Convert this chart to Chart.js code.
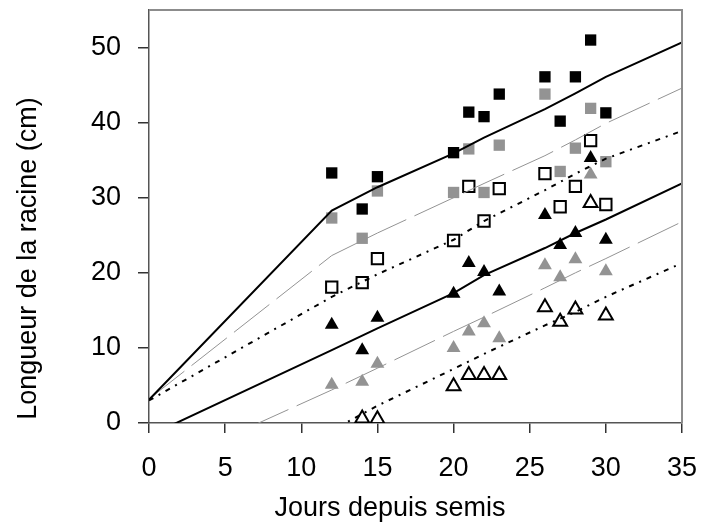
<!DOCTYPE html>
<html>
<head>
<meta charset="utf-8">
<script src="https://cdn.jsdelivr.net/npm/chart.js@4/dist/chart.umd.min.js"></script>
<style>
html, body { margin: 0; padding: 0; background: #fff; }
#wrap { width: 701px; height: 529px; position: relative; }
</style>
</head>
<body>
<div id="wrap"><canvas id="chart"></canvas></div>
<script>
// Root length (cm) against days after sowing
const days = [12, 14, 15, 20, 21, 22, 23, 26, 27, 28, 29, 30];
const blackSquares = [33.3, 28.5, 32.8, 36.0, 41.4, 40.8, 43.8, 46.1, 40.2, 46.1, 51.0, 41.3];
const greySquares  = [27.3, 24.6, 30.9, 30.7, 36.5, 30.7, 37.0, 43.8, 33.5, 36.6, 41.9, 34.8];
const openSquares  = [18.1, 18.7, 21.9, 24.3, 31.5, 26.9, 31.2, 33.2, 28.8, 31.5, 37.6, 29.1];
const blackTriangles = [13.1, 9.7, 14.0, 17.2, 21.3, 20.1, 17.5, 27.7, 23.7, 25.3, 35.3, 24.4];
const greyTriangles  = [5.1, 5.5, 7.9, 10.0, 12.2, 13.3, 11.3, 21.0, 19.4, 21.8, 33.1, 20.2];
const openTriangles  = [null, 0.6, 0.5, 4.9, 6.4, 6.4, 6.4, 15.4, 13.5, 15.1, 29.3, 14.3];

// fitted curves
const modelDays = [0, 12, 15, 20, 22, 26, 28, 30, 35];
const fitBlackTop = [3.1, 28.3, 31.4, 35.9, 38.0, 41.8, 43.9, 46.1, 50.7];
const fitGreyTop  = [3.2, 22.3, 25.3, 30.0, 31.9, 35.6, 37.7, 39.9, 44.6];
const fitDotTop   = [3.0, 16.8, 19.8, 24.4, 26.9, 31.0, 33.2, 35.2, 38.9];
const fitBlackLow = [-1.7, 9.7, 12.6, 17.3, 19.7, 23.3, 25.3, 27.1, 31.9];
const fitGreyLow  = [-6.6, 4.4, 7.3, 12.2, 14.1, 18.0, 20.0, 21.9, 26.8];
const fitDotLow   = [-12.3, -1.0, 2.3, 7.2, 9.2, 13.0, 14.8, 16.8, 21.3];

const xTicks = [0, 5, 10, 15, 20, 25, 30, 35];
const yTicks = [0, 10, 20, 30, 40, 50];
const xTitle = 'Jours depuis semis';
const yTitle = 'Longueur de la racine (cm)';

const FONT = '"Liberation Sans", Arial, sans-serif';
const GREY = '#939393';

function toPoints(xs, ys) {
    return xs.map((x, i) => ({ x: x, y: ys[i] }));
}

function fitLine(ys, color, width, dash) {
    return {
        type: 'line',
        data: toPoints(modelDays, ys),
        borderColor: color,
        borderWidth: width,
        borderDash: dash,
        pointRadius: 0,
        fill: false,
        tension: 0
    };
}

function markers(ys, style, fill, border) {
    return {
        type: 'scatter',
        data: toPoints(days, ys),
        pointStyle: style,
        pointRadius: 8,
        pointBackgroundColor: fill,
        pointBorderColor: border,
        pointBorderWidth: fill === 'rgba(0,0,0,0)' ? 2 : 0,
        showLine: false
    };
}

// no extra room for half tick labels at the ends
function noEdgePadding(s) {
    s.paddingTop = 0;
    s.paddingBottom = 0;
    s.paddingLeft = 0;
    s.paddingRight = 0;
}

// box around plot + axis titles
const framePlugin = {
    id: 'frame',
    afterDraw(chart) {
        const { ctx, chartArea: a } = chart;
        ctx.save();
        ctx.strokeStyle = '#8c8c8c';
        ctx.lineWidth = 2;
        ctx.beginPath();
        ctx.moveTo(a.left, a.top);
        ctx.lineTo(a.right, a.top);
        ctx.lineTo(a.right, a.bottom);
        ctx.stroke();

        ctx.fillStyle = '#000';
        ctx.font = '27px ' + FONT;
        ctx.textAlign = 'center';
        ctx.textBaseline = 'alphabetic';
        ctx.fillText(xTitle, 390, 516);
        ctx.translate(36, 258.5);
        ctx.rotate(-Math.PI / 2);
        ctx.fillText(yTitle, 0, 0);
        ctx.restore();
    }
};

new Chart(document.getElementById('chart'), {
    type: 'scatter',
    data: {
        datasets: [
            fitLine(fitBlackTop, '#000', 2, []),
            fitLine(fitGreyTop, GREY, 1, [45, 9]),
            fitLine(fitDotTop, '#000', 2, [5, 6, 2, 6]),
            fitLine(fitBlackLow, '#000', 2, []),
            fitLine(fitGreyLow, GREY, 1, [45, 9]),
            fitLine(fitDotLow, '#000', 2, [5, 6, 2, 6]),
            markers(blackSquares, 'rect', '#000', '#000'),
            markers(greySquares, 'rect', GREY, GREY),
            markers(openSquares, 'rect', 'rgba(0,0,0,0)', '#000'),
            markers(blackTriangles, 'triangle', '#000', '#000'),
            markers(greyTriangles, 'triangle', GREY, GREY),
            markers(openTriangles, 'triangle', 'rgba(0,0,0,0)', '#000')
        ]
    },
    options: {
        responsive: true,
        maintainAspectRatio: false,
        animation: false,
        layout: { padding: { left: 0, top: 10, right: 19, bottom: 0 } },
        plugins: {
            legend: { display: false },
            tooltip: { enabled: false }
        },
        scales: {
            x: {
                type: 'linear',
                min: 0,
                max: 35,
                afterBuildTicks: (s) => { s.ticks = xTicks.map(v => ({ value: v })); },
                afterFit: (s) => { s.height = 106; noEdgePadding(s); },
                grid: { drawOnChartArea: false, tickLength: 10, color: '#333', lineWidth: 1.5 },
                border: { color: '#555', width: 1.5 },
                ticks: { color: '#000', font: { family: FONT, size: 27 }, padding: 19, maxRotation: 0 }
            },
            y: {
                type: 'linear',
                min: 0,
                max: 55,
                afterBuildTicks: (s) => { s.ticks = yTicks.map(v => ({ value: v })); },
                afterFit: (s) => { s.width = 149; noEdgePadding(s); },
                grid: { drawOnChartArea: false, tickLength: 11, color: '#333', lineWidth: 1.5 },
                border: { color: '#555', width: 1.5 },
                ticks: { color: '#000', font: { family: FONT, size: 27 }, padding: 17 }
            }
        }
    },
    plugins: [framePlugin]
});
</script>
</body>
</html>
